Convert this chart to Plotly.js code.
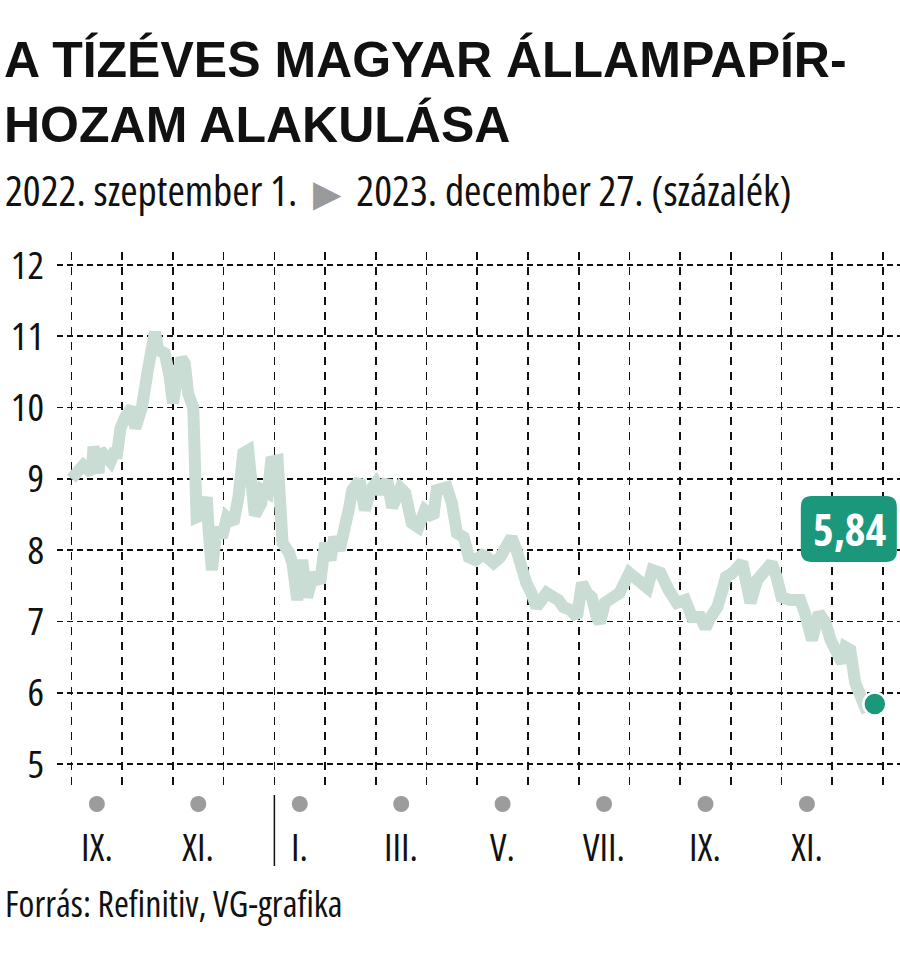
<!DOCTYPE html>
<html><head><meta charset="utf-8">
<script src="https://cdn.plot.ly/plotly-3.0.1.min.js"></script>
<style>html,body{margin:0;padding:0;background:#fff;}#chart{width:900px;height:953px;}
svg text{font-stretch:75%;}
</style>
</head><body><div id="chart"></div>
<script>
// ---- data ----
const dates = [
'2022-09-01','2022-09-08','2022-09-13','2022-09-14','2022-09-17','2022-09-18','2022-09-24','2022-09-26','2022-09-28','2022-09-30',
'2022-10-03','2022-10-07','2022-10-09','2022-10-13','2022-10-17','2022-10-21','2022-10-23','2022-10-27','2022-10-30',
'2022-11-01','2022-11-03','2022-11-06','2022-11-08','2022-11-10','2022-11-13','2022-11-14','2022-11-15','2022-11-18','2022-11-21','2022-11-22','2022-11-24','2022-11-27','2022-11-30',
'2022-12-03','2022-12-07','2022-12-10','2022-12-13','2022-12-16','2022-12-18','2022-12-20','2022-12-24','2022-12-25','2022-12-28','2022-12-30',
'2023-01-03','2023-01-04','2023-01-06','2023-01-10','2023-01-12','2023-01-15','2023-01-17','2023-01-18','2023-01-21','2023-01-25','2023-01-29',
'2023-02-01','2023-02-04','2023-02-06','2023-02-09','2023-02-12','2023-02-14','2023-02-16','2023-02-20','2023-02-23','2023-02-26',
'2023-03-01','2023-03-04','2023-03-08','2023-03-11','2023-03-16','2023-03-19','2023-03-23','2023-03-27','2023-03-31',
'2023-04-05','2023-04-07','2023-04-13','2023-04-16','2023-04-19','2023-04-23','2023-04-26','2023-04-30',
'2023-05-04','2023-05-07','2023-05-11','2023-05-15','2023-05-19','2023-05-22','2023-05-25','2023-05-28','2023-05-31',
'2023-06-03','2023-06-06','2023-06-09','2023-06-12','2023-06-16','2023-06-19','2023-06-22','2023-06-26','2023-06-30',
'2023-07-03','2023-07-06','2023-07-09','2023-07-12','2023-07-14','2023-07-17','2023-07-21','2023-07-26',
'2023-08-01','2023-08-07','2023-08-12','2023-08-15','2023-08-20','2023-08-25','2023-08-30',
'2023-09-04','2023-09-08','2023-09-13','2023-09-16','2023-09-19','2023-09-23','2023-09-26','2023-09-28',
'2023-10-02','2023-10-05','2023-10-08','2023-10-11','2023-10-13','2023-10-17','2023-10-21','2023-10-26','2023-10-29',
'2023-11-01','2023-11-06','2023-11-12','2023-11-15','2023-11-19','2023-11-23','2023-11-27','2023-11-30',
'2023-12-04','2023-12-07','2023-12-09','2023-12-12','2023-12-15','2023-12-18','2023-12-21','2023-12-27'
];
const yields = [
9.00,9.19,9.08,9.45,9.08,9.40,9.24,9.36,9.36,9.71,
9.87,10.00,9.71,10.00,10.57,11.06,10.81,10.76,10.43,
10.06,10.36,10.69,10.62,10.20,10.00,9.40,8.46,8.49,8.74,8.32,7.72,8.32,8.18,
8.46,8.38,8.74,9.36,9.40,8.60,8.49,8.66,8.84,8.80,9.24,
9.26,8.74,8.10,7.96,7.82,7.30,7.82,7.86,7.34,7.68,7.54,
8.10,7.86,8.18,8.00,8.28,8.56,8.84,8.98,8.56,8.84,
8.94,8.80,8.98,8.60,8.87,8.80,8.38,8.32,8.56,
8.46,8.84,8.88,8.66,8.24,8.18,7.90,7.86,
7.93,7.90,7.82,7.90,8.10,8.18,8.00,7.72,7.54,
7.40,7.20,7.30,7.40,7.34,7.30,7.20,7.16,7.06,
7.54,7.40,7.34,7.06,6.98,7.26,7.34,7.40,
7.68,7.58,7.47,7.72,7.68,7.44,7.26,
7.30,7.06,7.06,6.91,7.06,7.20,7.44,7.62,
7.68,7.76,7.83,7.48,7.26,7.58,7.72,7.82,7.62,
7.34,7.30,7.30,7.10,6.74,7.12,6.98,6.74,
6.60,6.42,6.64,6.60,6.14,5.94,5.80,5.84
];
const monthLabelMonths = ['2022-09','2022-11','2023-01','2023-03','2023-05','2023-07','2023-09','2023-11'];
const monthLabels = ['IX.','XI.','I.','III.','V.','VII.','IX.','XI.'];
const yTickVals = [5,6,7,8,9,10,11,12];
const yTickText = ['5','6','7','8','9','10','11','12'];
const yearBreakMonth = '2023-01';
const lastValueText = '5,84';
const titleText = '<b>A TÍZÉVES MAGYAR ÁLLAMPAPÍR-<br>HOZAM ALAKULÁSA</b>';
const subtitleText = '2022. szeptember 1.  <span style="color:#9a9a9a;font-size:37px">▶</span>  2023. december 27. (százalék)';
const sourceText = 'Forrás: Refinitiv, VG-grafika';

// ---- helpers ----
function monthPos(s){
  const p = s.split('-').map(Number);
  const y = p[0], m = p[1], d = p.length > 2 ? p[2] : 1;
  const dim = new Date(y, m, 0).getDate();
  return (y-2022)*12 + (m-9) + (d-1)/dim;
}
const W = 900, H = 953;
const L = 57, R = 900, T = 252, B = 785;
const pxX = px => (px - L) / (R - L);
const pxY = py => (B - py) / (B - T);
const xRange = [-0.286, 16.335];
const yRange = [4.705, 12.182];
const wide = '"Liberation Sans", Arial, sans-serif';
const narrow = '"Open Sans", sans-serif';
const teal = '#1b977c';

const xs = dates.map(monthPos);
const lastX = xs[xs.length-1], lastY = yields[yields.length-1];

const traces = [
  {x: xs, y: yields, type: 'scatter', mode: 'lines',
   line: {color: '#c9ddd4', width: 12, shape: 'linear'}, hoverinfo: 'skip'},
  {x: [lastX], y: [lastY], type: 'scatter', mode: 'markers', cliponaxis: false,
   marker: {color: teal, size: 23, line: {color: '#fff', width: 2.5}}, hoverinfo: 'skip'}
];

const annotations = monthLabels.map((t, i) => ({
  text: t, x: monthPos(monthLabelMonths[i]) + 0.5, xref: 'x', y: pxY(846), yref: 'paper',
  xanchor: 'center', yanchor: 'middle', showarrow: false,
  font: {family: narrow, size: 38, color: '#111'}
}));
annotations.push({text: subtitleText, x: pxX(3), xref: 'paper', y: pxY(189), yref: 'paper',
  xanchor: 'left', yanchor: 'middle', showarrow: false, font: {family: narrow, size: 42, color: '#111'}});
annotations.push({text: sourceText, x: pxX(3), xref: 'paper', y: pxY(903), yref: 'paper',
  xanchor: 'left', yanchor: 'middle', showarrow: false, font: {family: narrow, size: 36, color: '#111'}});
annotations.push({text: '<b>' + lastValueText + '</b>', x: lastX, xref: 'x', y: lastY, yref: 'y',
  xshift: -25, yshift: 175, xanchor: 'center', yanchor: 'middle', showarrow: false,
  font: {family: narrow, size: 44, color: '#fff'}});

function roundRect(x0, x1, y0, y1, r){
  return `M ${x0+r},${y0} L ${x1-r},${y0} Q ${x1},${y0} ${x1},${y0+r} L ${x1},${y1-r} Q ${x1},${y1} ${x1-r},${y1} L ${x0+r},${y1} Q ${x0},${y1} ${x0},${y1-r} L ${x0},${y0+r} Q ${x0},${y0} ${x0+r},${y0} Z`;
}

const shapes = [
  {type: 'line', xref: 'x', yref: 'paper', x0: monthPos(yearBreakMonth), x1: monthPos(yearBreakMonth),
   y0: pxY(795), y1: pxY(866), line: {color: '#111', width: 1.5}},
  {type: 'path', xref: 'x', yref: 'y', xsizemode: 'pixel', ysizemode: 'pixel',
   xanchor: lastX, yanchor: lastY, path: roundRect(-74, 22, 142, 208, 11),
   fillcolor: teal, line: {width: 0}, layer: 'above'}
];
monthLabelMonths.forEach(m => {
  shapes.push({type: 'circle', xref: 'x', yref: 'paper', xsizemode: 'pixel', ysizemode: 'pixel',
    xanchor: monthPos(m) + 0.5, yanchor: pxY(804), x0: -8, x1: 8, y0: -8, y1: 8,
    fillcolor: '#9c9c9c', line: {width: 0}, layer: 'above'});
});

const layout = {
  width: W, height: H,
  margin: {l: L, r: W - R, t: T, b: H - B, pad: 0},
  paper_bgcolor: '#fff', plot_bgcolor: '#fff',
  showlegend: false,
  title: {text: titleText, x: 4/W, xanchor: 'left', xref: 'container',
          y: 1 - 77/H, yanchor: 'top', yref: 'container',
          font: {family: wide, size: 50, color: '#111'}},
  xaxis: {range: xRange, tickmode: 'linear', tick0: 0, dtick: 1, showticklabels: false,
          showgrid: true, gridcolor: '#111', gridwidth: 1.6, griddash: '8px,7px',
          zeroline: false, showline: false, ticks: '', fixedrange: true},
  yaxis: {range: yRange, tickmode: 'array', tickvals: yTickVals, ticktext: yTickText,
          showgrid: true, gridcolor: '#111', gridwidth: 1.8, griddash: '6px,4px',
          zeroline: false, showline: false, ticks: '', ticklabelstandoff: 12,
          tickfont: {family: narrow, size: 39, color: '#111'}, fixedrange: true},
  annotations: annotations,
  shapes: shapes
};

Plotly.newPlot('chart', traces, layout, {displayModeBar: false, staticPlot: true});
</script>
</body></html>
